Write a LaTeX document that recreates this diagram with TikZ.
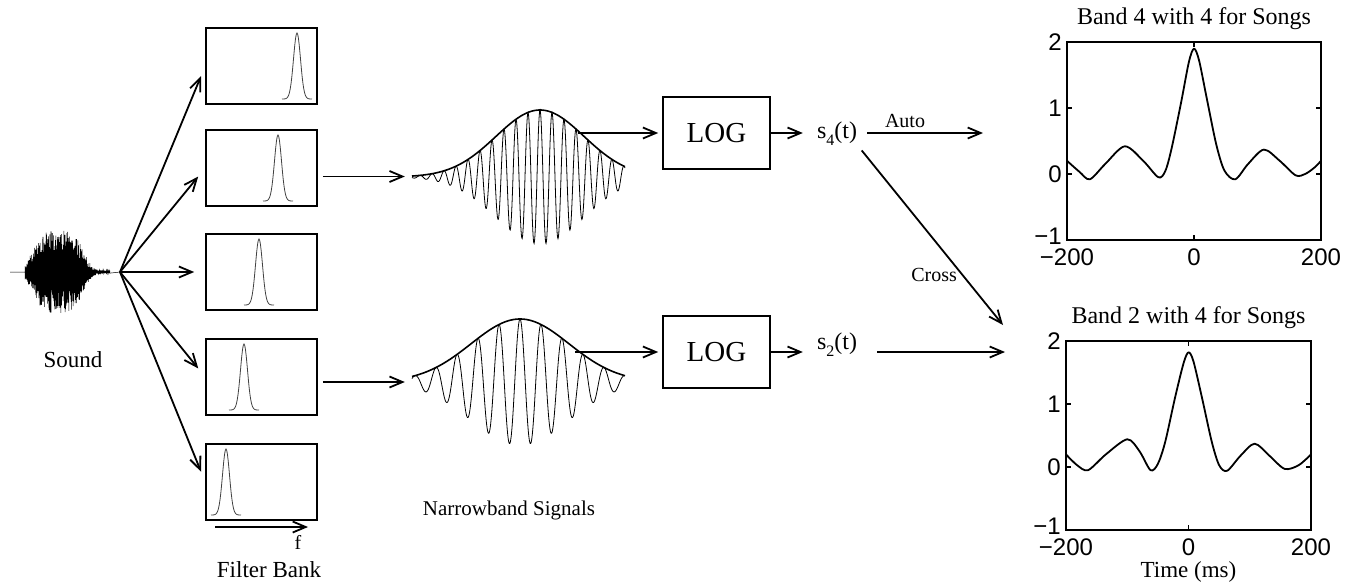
\documentclass[tikz,border=0pt]{standalone}
\usepackage{fontspec}
\setmainfont{Liberation Serif}
\setsansfont{Liberation Sans}
\usetikzlibrary{arrows.meta,positioning,calc}
\tikzset{
  fbbox/.style={draw, line width=1.6pt, minimum width=111pt, minimum height=76pt, inner sep=0pt},
  logbox/.style={draw, line width=1.6pt, minimum width=107pt, minimum height=72pt, inner sep=0pt, font=\fontsize{29}{32}\selectfont},
  hollow/.style={inner sep=0pt},
  flow/.style={-{Straight Barb[length=13pt,width=11pt]}, line width=1.8pt},
  peak/.style={line width=0.8pt, black!75},
  carrier/.style={line width=0.8pt},
  envelope/.style={line width=1.6pt},
  wave/.style={line width=0.5pt},
  axisbox/.style={line width=1.4pt},
  curve/.style={line width=1.8pt, line join=round},
  lbl/.style={font=\fontsize{23}{26}\selectfont},
  lblsm/.style={font=\fontsize{20}{22}\selectfont, inner sep=1pt},
  sig/.style={font=\fontsize{24}{26}\selectfont, inner sep=2pt},
  ttl/.style={font=\fontsize{24}{26}\selectfont},
  ticklbl/.style={font=\sffamily\fontsize{24}{26}\selectfont, inner sep=0pt},
}
\newcommand{\fbank}[3]{%
  \node[fbbox] (#1) at (261.5,#2) {};
  \draw[peak] plot[domain=-15:15, samples=41, variable=\t] ({#3+\t},{#2+33-66*exp(-\t*\t/24.5)});}
% centre, baseline, amplitude, 2 sigma^2 / 100, degrees per px
\newcommand{\nbsig}[5]{%
  \draw[carrier] plot[domain=412:625, samples=500, variable=\t] (\t,{#2-#3*exp(-((\t-#1)/10)*((\t-#1)/10)/#4)*cos(#5*(\t-#1))});
  \draw[envelope] plot[domain=412:625, samples=120, variable=\t] (\t,{#2-#3*exp(-((\t-#1)/10)*((\t-#1)/10)/#4)});}
\newcommand{\corrplot}[7]{%
  \begin{scope}[shift={(#2,#3)}, x=#4pt, y=#5pt]
    \draw[axisbox] (-200,-1) rectangle (200,2);
    \foreach \v in {-1,0,1,2} {
      \draw[axisbox] (-200,\v) -- ++(5pt,0);
      \draw[axisbox] (200,\v) -- ++(-5pt,0);
    }
    \foreach \u in {-200,0,200} {
      \draw[axisbox] (\u,-1) -- ++(0,5pt);
      \draw[axisbox] (\u,2) -- ++(0,-5pt);
    }
    \foreach \v/\lab/\dy in {-1/−1/4,0/0/0,1/1/0,2/2/0}
      \node[ticklbl, left=5pt, yshift=\dy pt] (#1-y\v) at (-200,\v) {\lab};
    \foreach \u/\lab in {-200/−200,0/0,200/200}
      \node[ticklbl, below=9pt] (#1-x\u) at (\u,-1) {\lab};
    \node[ttl, above=9pt] (#1-title) at (0,2) {#6};
    \draw[curve] plot[smooth] coordinates {#7};
  \end{scope}}

\begin{document}
\begin{tikzpicture}[x=1pt,y=-1pt]
  \useasboundingbox (0,0) rectangle (1350,587);
  % sound
  \pgfmathsetseed{11}
  \draw[wave] (10,272) -- (25,272)
    \foreach \i [evaluate=\i as \wx using {25+0.2*\i},
                 evaluate=\i as \wu using {abs(25+0.2*\i-58)/28},
                 evaluate=\i as \wa using {(1.5+40*exp(-\wu*\wu*\wu*\wu))*(0.4+0.6*rnd)*(1-2*mod(\i,2))}]
      in {0,...,425} { -- (\wx,{272-\wa}) } -- (120,272);
  \coordinate (hub) at (120,272);
  \node[lbl] (sound) at (73,360) {Sound};
  % filter bank
  \fbank{fb1}{66}{297}
  \fbank{fb2}{168}{278}
  \fbank{fb3}{272}{259}
  \fbank{fb4}{377}{244}
  \fbank{fb5}{482}{226}
  \foreach \n in {1,...,5} \draw[flow, shorten >=11pt] (hub) -- (fb\n.west);
  \coordinate (f0) at (215,527);
  \coordinate (f1) at (308,527);
  \draw[flow] (f0) -- (f1);
  \node[lbl, font=\fontsize{20}{22}\selectfont] (flbl) at (298,542) {f};
  \node[lbl] (fblbl) at (269,570) {Filter Bank};
  % narrowband signals
  \nbsig{540}{177}{67}{38.72}{30}
  \nbsig{520}{382}{63}{48.02}{17.14}
  \node[hollow, minimum width=213pt, minimum height=133pt] (nb4) at (518.5,176.5) {};
  \node[hollow, minimum width=213pt, minimum height=126pt] (nb2) at (518.5,382) {};
  \node[lbl, font=\fontsize{21}{24}\selectfont] (nblbl) at (509,510) {Narrowband Signals};
  \draw[flow, shorten <=5pt, shorten >=7pt] (fb2.east |- nb4.west) -- (nb4.west);
  \draw[flow, shorten <=5pt, shorten >=7pt] (fb4.east |- nb2.west) -- (nb2.west);
  % log
  \node[logbox] (log4) at (716.5,133) {LOG};
  \node[logbox] (log2) at (716.5,352) {LOG};
  \coordinate (nb4out) at (578,133);
  \coordinate (nb2out) at (575,352);
  \draw[flow, shorten >=4pt] (nb4out) -- (log4.west);
  \draw[flow, shorten >=4pt] (nb2out) -- (log2.west);
  \node[sig] (s4) at (837,133.5) {s\raisebox{-0.6ex}{\fontsize{16}{16}\selectfont 4}(t)};
  \node[sig] (s2) at (837,344.5) {s\raisebox{-0.6ex}{\fontsize{16}{16}\selectfont 2}(t)};
  \draw[flow, shorten >=12pt] (log4.east) -- (log4.east -| s4.west);
  \draw[flow, shorten >=12pt] (log2.east) -- (log2.east -| s2.west);
  \coordinate (autoend) at (983,133);
  \coordinate (crossend) at (1003,325);
  \coordinate (s2end) at (1005,352);
  \draw[flow, shorten <=8pt] (s4.east |- autoend) -- node[lblsm, pos=0.37, above=3pt] (autolbl) {Auto} (autoend);
  \draw[flow, shorten <=4pt] (s4.south east) -- node[lblsm, pos=0.72, left=4pt] (crosslbl) {Cross} (crossend);
  \draw[flow, shorten <=18pt] (s2.east |- s2end) -- (s2end);
  % correlations
  \corrplot{pl4}{1194}{174}{0.635}{66}{Band 4 with 4 for Songs}{(-200,0.2) (-180,0.03) (-164,-0.08) (-140,0.15) (-109,0.42) (-80,0.2) (-56,-0.05) (-45,0.05) (-35,0.4) (-20,1.1) (-8,1.7) (0,1.9) (8,1.72) (20,1.15) (35,0.45) (48,0.05) (65,-0.08) (85,0.15) (110,0.37) (135,0.2) (160,-0.02) (175,0.0) (190,0.1) (200,0.2)}
  \corrplot{pl2}{1188.5}{467}{0.6125}{63}{Band 2 with 4 for Songs}{(-200,0.2) (-182,0.03) (-164,-0.05) (-135,0.2) (-100,0.44) (-80,0.25) (-62,-0.05) (-50,0.05) (-38,0.4) (-22,1.1) (-8,1.65) (0,1.82) (8,1.68) (22,1.1) (38,0.4) (50,0.03) (63,-0.06) (85,0.18) (108,0.37) (132,0.18) (157,-0.03) (180,0.03) (200,0.2)}
  \node[lbl, below=2pt of pl2-x0] (tlbl) {Time (ms)};
\end{tikzpicture}
\end{document}
